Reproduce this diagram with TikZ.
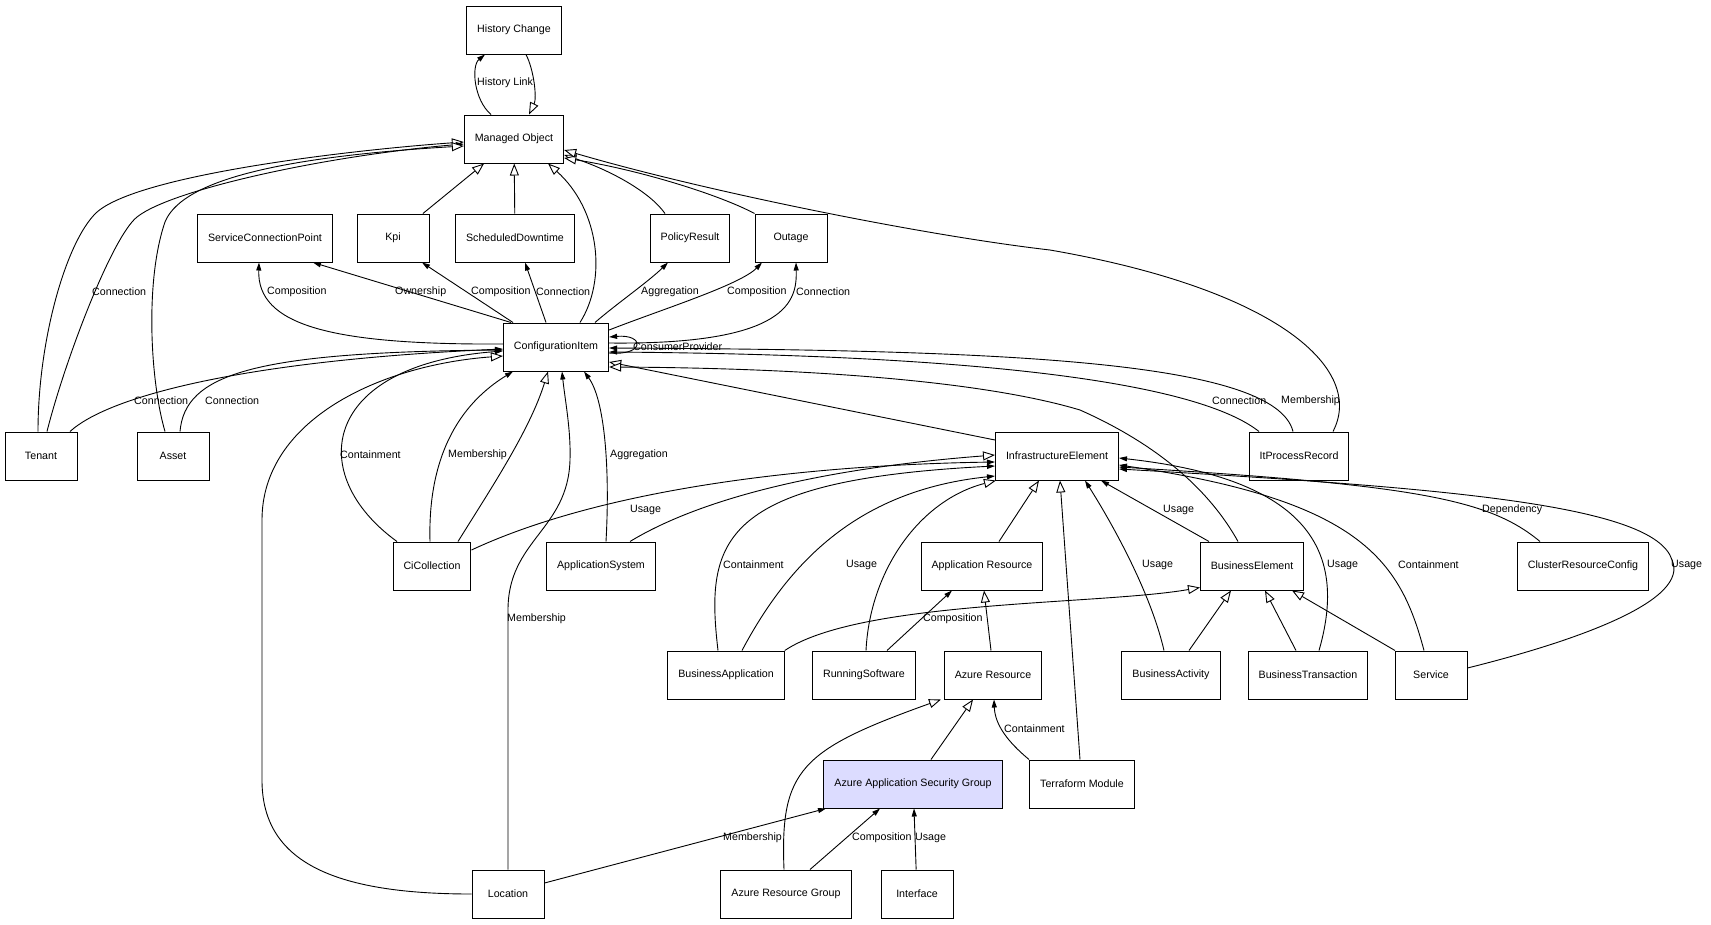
\documentclass[tikz,border=0pt]{standalone}
\usepackage{fontspec}
\setmainfont{Liberation Sans}
\usepackage{xcolor}
\usepackage{tikz}
\usetikzlibrary{arrows.meta}
\definecolor{asgblue}{RGB}{220,220,255}

\begin{document}
\begin{tikzpicture}[x=1pt, y=-1pt, font=\fontsize{10.67}{12.8}\selectfont,
 box/.style={draw, line width=1pt, fill=white, minimum width=72pt, minimum height=48pt, inner xsep=10.5pt, anchor=center},
 hlbox/.style={box, fill=asgblue},
 assoc/.style={line width=0.9pt, -{Triangle[length=8pt,width=5pt]}},
 gen/.style={line width=0.9pt, -{Triangle[fill=white,length=12pt,width=9pt]}},
 lbl/.style={anchor=west, inner sep=0pt}]
\useasboundingbox (0,0) rectangle (1711,924);

% classes
\node[box] (hist) at (514,30) {History Change};
\node[box] (mo) at (514,139) {Managed Object};
\node[box] (scp) at (265,238) {ServiceConnectionPoint};
\node[box] (kpi) at (393,238) {Kpi};
\node[box] (sched) at (515,238) {ScheduledDowntime};
\node[box] (policy) at (690,238) {PolicyResult};
\node[box] (outage) at (791,238) {Outage};
\node[box] (ci) at (556,347) {ConfigurationItem};
\node[box] (tenant) at (41,456) {Tenant};
\node[box] (asset) at (173,456) {Asset};
\node[box] (infra) at (1057,456) {InfrastructureElement};
\node[box] (itpr) at (1299,456) {ItProcessRecord};
\node[box] (cicoll) at (432,566) {CiCollection};
\node[box] (appsys) at (601,566) {ApplicationSystem};
\node[box] (appres) at (982,566) {Application Resource};
\node[box] (buselem) at (1252,566) {BusinessElement};
\node[box] (cluster) at (1583,566) {ClusterResourceConfig};
\node[box] (busapp) at (726,675) {BusinessApplication};
\node[box] (runsw) at (864,675) {RunningSoftware};
\node[box] (azres) at (993,675) {Azure Resource};
\node[box] (busact) at (1171,675) {BusinessActivity};
\node[box] (bustx) at (1308,675) {BusinessTransaction};
\node[box] (service) at (1431,675) {Service};
\node[hlbox] (asg) at (913,784) {Azure Application Security Group};
\node[box] (terraform) at (1082,784) {Terraform Module};
\node[box] (location) at (508,894) {Location};
\node[box] (azrg) at (786,894) {Azure Resource Group};
\node[box] (interface) at (917,894) {Interface};

% Managed Object
\draw[assoc] ([xshift=-23pt]mo.north) .. controls (474,100) and (471,66) .. ([xshift=-29pt]hist.south);
\draw[gen] ([xshift=12pt]hist.south) .. controls (534,70) and (537,98) .. ([xshift=15pt]mo.north);
\draw[gen] ([xshift=-3pt]tenant.north) .. controls (38,340) and (66,242) .. (96,213) .. controls (136,175) and (350,150) .. ([yshift=-3pt]mo.west);
\draw[assoc] ([xshift=6pt]tenant.north) .. controls (65,360) and (112,237) .. (137,217) .. controls (172,189) and (330,155) .. ([yshift=-5pt]mo.west);
\draw[gen] ([xshift=-8pt]asset.north) .. controls (150,380) and (145,280) .. (165,222) .. controls (180,185) and (260,158) .. ([yshift=-7pt]mo.west);
\draw[gen] (kpi) -- (mo);
\draw[gen] (sched) -- (mo);
\draw[gen] ([xshift=24pt]ci.north) .. controls (607,280) and (600,210) .. ([xshift=34pt]mo.south);
\draw[gen] ([xshift=-25pt]policy.north) .. controls (650,192) and (610,170) .. ([yshift=-16pt]mo.east);
\draw[gen] (outage.north west) .. controls (720,195) and (640,170) .. ([yshift=-19pt]mo.east);
\draw[gen] ([xshift=34pt]itpr.north) .. controls (1365,370) and (1280,290) .. (1050,250) .. controls (920,235) and (700,190) .. ([yshift=-11pt]mo.east);

% ConfigurationItem out
\draw[assoc] ([yshift=3pt]ci.west) .. controls (330,345) and (257,325) .. ([xshift=-6pt]scp.south);
\draw[assoc] ([xshift=-45pt]ci.north) -- ([xshift=48pt]scp.south);
\draw[assoc] ([xshift=-43pt]ci.north) -- ([xshift=29pt]kpi.south);
\draw[assoc] ([xshift=-10pt]ci.north) -- ([xshift=10pt]sched.south);
\draw[assoc] ([xshift=39pt]ci.north) .. controls (615,305) and (648,282) .. ([xshift=-22pt]policy.south);
\draw[assoc] ([yshift=17pt]ci.east) .. controls (660,310) and (740,285) .. ([xshift=-29pt]outage.south);
\draw[assoc] ([yshift=4pt]ci.east) .. controls (790,345) and (797,300) .. ([xshift=5pt]outage.south);
\draw[assoc] ([yshift=-6pt]ci.east) .. controls (645,356) and (645,334) .. ([yshift=10pt]ci.east);

% ConfigurationItem in
\draw[assoc] ([xshift=29pt]tenant.north) .. controls (110,395) and (250,360) .. ([yshift=-2pt]ci.west);
\draw[assoc] ([xshift=7pt]asset.north) .. controls (185,375) and (250,352) .. ([yshift=-3pt]ci.west);
\draw[assoc] ([xshift=-35pt]cicoll.north) .. controls (305,475) and (320,365) .. ([yshift=-4pt]ci.west);
\draw[assoc] ([xshift=-2pt]cicoll.north) .. controls (428,470) and (450,410) .. ([xshift=-43pt]ci.south);
\draw[gen] ([xshift=26pt]cicoll.north) .. controls (490,490) and (530,430) .. ([xshift=-8pt]ci.south);
\draw[assoc] (location.north) -- (508,610) .. controls (508,540) and (568,530) .. (570,460) .. controls (571,430) and (565,400) .. ([xshift=6pt]ci.south);
\draw[assoc] ([xshift=5pt]appsys.north) .. controls (610,470) and (605,400) .. ([xshift=28pt]ci.south);
\draw[gen] (location.west) .. controls (330,894) and (262,860) .. (262,780) -- (262,520) .. controls (262,420) and (380,365) .. ([yshift=-9pt]ci.west);
\draw[gen] ([yshift=16pt]infra.west) -- ([yshift=-15pt]ci.east);
\draw[gen] ([xshift=-14pt]buselem.north) .. controls (1215,500) and (1170,450) .. (1080,410) .. controls (980,380) and (800,368) .. ([yshift=-20pt]ci.east);
\draw[assoc] ([xshift=-40pt]itpr.north) .. controls (1200,385) and (1000,355) .. ([yshift=-5pt]ci.east);
\draw[assoc] ([xshift=-6pt]itpr.north) .. controls (1275,360) and (1000,350) .. ([yshift=-1pt]ci.east);

% InfrastructureElement
\draw[assoc] ([yshift=16pt]cicoll.east) .. controls (600,490) and (800,465) .. ([yshift=-6pt]infra.west);
\draw[gen] ([xshift=29pt]appsys.north) .. controls (690,505) and (800,470) .. ([yshift=1pt]infra.west);
\draw[assoc] ([xshift=-8pt]busapp.north) .. controls (705,540) and (720,480) .. ([yshift=-10pt]infra.west);
\draw[assoc] ([xshift=16pt]busapp.north) .. controls (790,560) and (860,490) .. ([yshift=-20pt]infra.west);
\draw[gen] ([xshift=2pt]runsw.north) .. controls (870,570) and (920,500) .. ([xshift=-61pt]infra.south);
\draw[gen] ([xshift=17pt]appres.north) -- ([xshift=-18pt]infra.south);
\draw[gen] ([xshift=-2pt]terraform.north) -- ([xshift=3pt]infra.south);
\draw[assoc] ([xshift=-7pt]busact.north) .. controls (1150,590) and (1110,520) .. ([xshift=28pt]infra.south);
\draw[assoc] ([xshift=-43pt]buselem.north) -- ([xshift=44pt]infra.south);
\draw[assoc] ([xshift=11pt]bustx.north) .. controls (1345,560) and (1320,480) .. ([yshift=-2pt]infra.east);
\draw[assoc] ([xshift=-7pt]service.north) .. controls (1400,560) and (1360,500) .. ([yshift=-9pt]infra.east);
\draw[assoc] ([yshift=7pt]service.east) .. controls (1580,640) and (1690,600) .. (1672,560) .. controls (1655,505) and (1450,488) .. ([yshift=-13pt]infra.east);
\draw[assoc] ([xshift=-43pt]cluster.north) .. controls (1490,500) and (1420,485) .. ([yshift=-11pt]infra.east);

% BusinessElement
\draw[gen] (busapp.north east) .. controls (860,600) and (1100,605) .. ([xshift=-52pt,yshift=3pt]buselem.south);
\draw[gen] ([xshift=18pt]busact.north) -- ([xshift=-21pt]buselem.south);
\draw[gen] ([xshift=-12pt]bustx.north) -- ([xshift=13pt]buselem.south);
\draw[gen] ([xshift=-36pt]service.north) -- ([xshift=40pt]buselem.south);

% Azure
\draw[assoc] ([xshift=23pt]runsw.north) -- ([xshift=-30pt]appres.south);
\draw[gen] ([xshift=-2pt]azres.north) -- ([xshift=2pt]appres.south);
\draw[gen] ([xshift=-2pt]azrg.north) .. controls (780,770) and (800,750) .. ([xshift=-52pt]azres.south);
\draw[gen] ([xshift=18pt]asg.north) -- ([xshift=-20pt]azres.south);
\draw[assoc] ([xshift=-53pt]terraform.north) .. controls (1008,742) and (995,725) .. ([xshift=1pt]azres.south);
\draw[assoc] ([yshift=11pt]location.east) -- ([xshift=-87pt]asg.south);
\draw[assoc] ([xshift=24pt]azrg.north) -- ([xshift=-33pt]asg.south);
\draw[assoc] (interface) -- ([xshift=1pt]asg.south);

% labels
\node[lbl] (lHistLink) at (477,83) {History Link};
\node[lbl] (lTenantMo) at (92,292) {Connection};
\node[lbl] (lScpComp) at (267,292) {Composition};
\node[lbl] (lScpOwn) at (395,292) {Ownership};
\node[lbl] (lKpiComp) at (471,292) {Composition};
\node[lbl] (lSchedConn) at (536,292) {Connection};
\node[lbl] (lPolicyAggr) at (641,292) {Aggregation};
\node[lbl] (lOutageComp) at (727,292) {Composition};
\node[lbl] (lOutageConn) at (796,292) {Connection};
\node[lbl] (lConsProv) at (633,347) {ConsumerProvider};
\node[lbl] (lTenantCi) at (134,401) {Connection};
\node[lbl] (lAssetCi) at (205,401) {Connection};
\node[lbl] (lItprConn) at (1212,401) {Connection};
\node[lbl] (lItprMemb) at (1281,401) {Membership};
\node[lbl] (lCollCont) at (340,455) {Containment};
\node[lbl] (lCollMemb) at (448,455) {Membership};
\node[lbl] (lSysAggr) at (610,455) {Aggregation};
\node[lbl] (lCollUse) at (630,510) {Usage};
\node[lbl] (lElemUse) at (1163,510) {Usage};
\node[lbl] (lClusterDep) at (1482,510) {Dependency};
\node[lbl] (lAppCont) at (723,565) {Containment};
\node[lbl] (lAppUse) at (846,565) {Usage};
\node[lbl] (lActUse) at (1142,565) {Usage};
\node[lbl] (lTxUse) at (1327,565) {Usage};
\node[lbl] (lSvcCont) at (1398,565) {Containment};
\node[lbl] (lSvcUse) at (1671,565) {Usage};
\node[lbl] (lLocMemb) at (507,619) {Membership};
\node[lbl] (lSwComp) at (923,619) {Composition};
\node[lbl] (lTfCont) at (1004,729) {Containment};
\node[lbl] (lLocAsg) at (723,838) {Membership};
\node[lbl] (lRgComp) at (852,838) {Composition};
\node[lbl] (lIfUse) at (915,838) {Usage};
\end{tikzpicture}
\end{document}
